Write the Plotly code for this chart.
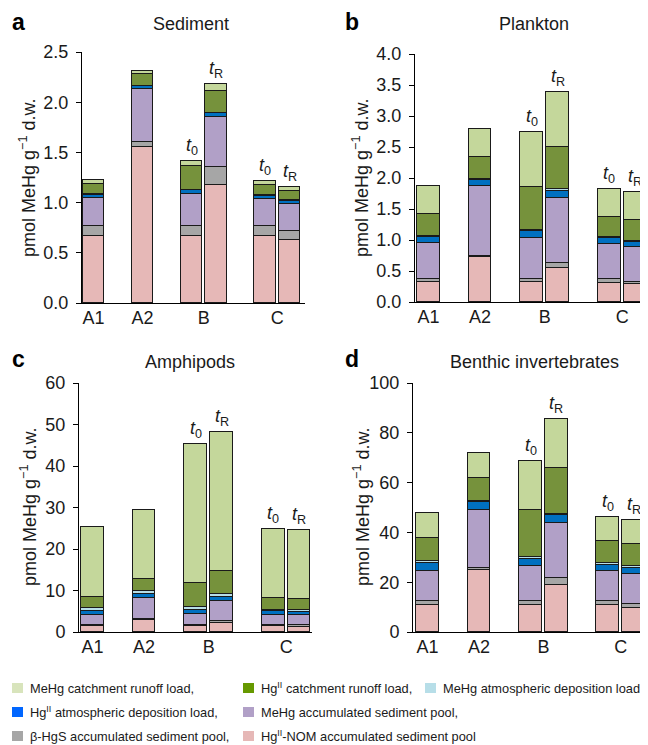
import plotly.graph_objects as go

W, H = 648, 745
PAGE_OFFSET = 8  # the page body places the figure 8 px from the window's top-left corner

# ---------------- data ----------------
bar_groups = ["A1", "A2", "B", "B", "C", "C"]
bar_times = ["", "", "t0", "tR", "t0", "tR"]

component_names = [
    "Hg<sup>II</sup>-NOM accumulated sediment pool",
    "β-HgS accumulated sediment pool,",
    "MeHg accumulated sediment pool,",
    "Hg<sup>II</sup> atmospheric deposition load,",
    "MeHg atmospheric deposition load,",
    "Hg<sup>II</sup> catchment runoff load,",
    "MeHg catchment runoff load,",
]
bar_colors = ["#e6b8b7", "#a6a6a6", "#b1a0c7", "#0070c0", "#b7dee8", "#76923c", "#c4d79b"]
legend_colors = ["#e6b8b7", "#a6a6a6", "#b1a0c7", "#0066ff", "#b7dee8", "#669900", "#d8e4bc"]

# Sediment (pmol MeHg g-1 d.w.)
sed_nom = [0.667, 1.550, 0.667, 1.180, 0.665, 0.624]
sed_hgs = [0.097, 0.050, 0.097, 0.175, 0.100, 0.093]
sed_mehg_sed = [0.282, 0.528, 0.326, 0.500, 0.272, 0.266]
sed_hg_atm = [0.032, 0.032, 0.032, 0.033, 0.030, 0.032]
sed_mehg_atm = [0.008, 0.006, 0.008, 0.008, 0.006, 0.006]
sed_hg_run = [0.104, 0.112, 0.230, 0.216, 0.106, 0.098]
sed_mehg_run = [0.038, 0.033, 0.057, 0.066, 0.036, 0.033]

# Plankton
pla_nom = [0.315, 0.730, 0.315, 0.550, 0.310, 0.290]
pla_hgs = [0.050, 0.015, 0.050, 0.080, 0.055, 0.040]
pla_mehg_sed = [0.590, 1.120, 0.665, 1.050, 0.570, 0.555]
pla_hg_atm = [0.090, 0.100, 0.110, 0.115, 0.090, 0.080]
pla_mehg_atm = [0.015, 0.020, 0.020, 0.020, 0.020, 0.020]
pla_hg_run = [0.360, 0.350, 0.690, 0.690, 0.330, 0.340]
pla_mehg_run = [0.450, 0.450, 0.890, 0.890, 0.455, 0.450]

# Amphipods
amp_nom = [1.5, 3.0, 1.5, 2.2, 1.45, 1.2]
amp_hgs = [0.2, 0.2, 0.2, 0.5, 0.2, 0.4]
amp_mehg_sed = [2.5, 5.0, 2.7, 4.8, 2.5, 2.4]
amp_hg_atm = [0.9, 1.0, 1.0, 1.0, 0.85, 0.8]
amp_mehg_atm = [0.8, 0.6, 0.7, 0.6, 0.4, 0.4]
amp_hg_run = [2.6, 3.0, 5.7, 5.6, 2.8, 2.85]
amp_mehg_run = [16.9, 16.7, 33.6, 33.6, 16.7, 16.65]

# Benthic invertebrates
ben_nom = [10.7, 24.8, 10.7, 18.8, 10.7, 9.8]
ben_hgs = [1.6, 0.8, 1.8, 2.8, 1.8, 1.6]
ben_mehg_sed = [12.2, 23.4, 13.9, 22.3, 11.9, 11.8]
ben_hg_atm = [3.2, 3.1, 3.1, 2.9, 2.7, 2.6]
ben_mehg_atm = [0.7, 0.7, 0.7, 0.7, 0.6, 0.6]
ben_hg_run = [9.2, 9.2, 18.8, 18.5, 8.8, 8.8]
ben_mehg_run = [10.1, 9.7, 19.5, 19.6, 9.8, 9.8]

panel_titles = ["Sediment", "Plankton", "Amphipods", "Benthic invertebrates"]
panel_letters = ["a", "b", "c", "d"]
y_ticks = [[0.0, 0.5, 1.0, 1.5, 2.0, 2.5],
           [0.0, 0.5, 1.0, 1.5, 2.0, 2.5, 3.0, 3.5, 4.0],
           [0, 10, 20, 30, 40, 50, 60],
           [0, 20, 40, 60, 80, 100]]
panel_data = [
    [sed_nom, sed_hgs, sed_mehg_sed, sed_hg_atm, sed_mehg_atm, sed_hg_run, sed_mehg_run],
    [pla_nom, pla_hgs, pla_mehg_sed, pla_hg_atm, pla_mehg_atm, pla_hg_run, pla_mehg_run],
    [amp_nom, amp_hgs, amp_mehg_sed, amp_hg_atm, amp_mehg_atm, amp_hg_run, amp_mehg_run],
    [ben_nom, ben_hgs, ben_mehg_sed, ben_hg_atm, ben_mehg_atm, ben_hg_run, ben_mehg_run],
]

# ---------------- layout helpers ----------------
def fx(px):
    return (px - PAGE_OFFSET) / W

def fy(py):
    return 1 - (py - PAGE_OFFSET) / H

# bar slot positions: one empty slot between groups
positions = []
p = 0
for i, g in enumerate(bar_groups):
    if i > 0:
        p += 2 if g != bar_groups[i - 1] else 1
    positions.append(p)
group_names = []
group_centers = []
for g in bar_groups:
    if g not in group_names:
        group_names.append(g)
for g in group_names:
    ps = [positions[i] for i in range(len(bar_groups)) if bar_groups[i] == g]
    group_centers.append(sum(ps) / len(ps))

# pixel geometry of each panel in the window: (x0, x1, y0, y1, xrange)
panels_px = [
    (82, 305, 52, 303, [-0.47, 8.63]),
    (415, 648, 54, 302, [-0.52, 8.5]),
    (79, 312, 383, 632, [-0.52, 8.5]),
    (413, 648, 383, 632, [-0.56, 8.56]),
]
title_px = [(191, 24), (534, 24), (190, 362), (534, 362)]
letter_px = [(18, 22), (352, 22), (18, 359), (352, 359)]
ytitle_px = [(27, 178), (360, 178), (28, 507), (361, 507)]

FONT = "Liberation Sans, Arial, sans-serif"
TXT = "#1a1a1a"

fig = go.Figure()
annotations = []

for k in range(4):
    xa = "x" if k == 0 else f"x{k+1}"
    ya = "y" if k == 0 else f"y{k+1}"
    comps = panel_data[k]
    for c in range(7):
        fig.add_trace(go.Bar(
            x=positions, y=comps[c], xaxis=xa, yaxis=ya,
            width=0.88,
            marker=dict(color=bar_colors[c], line=dict(color="#1a1a1a", width=1)),
            name=component_names[c], showlegend=False,
        ))
    totals = [sum(comps[c][i] for c in range(7)) for i in range(len(positions))]
    for i, t in enumerate(bar_times):
        if t:
            sub = t[1:]
            annotations.append(dict(
                x=positions[i], y=totals[i], xref=xa, yref=ya,
                text=f"<i>t</i><sub>{sub}</sub>", showarrow=False,
                xanchor="center", yanchor="bottom", yshift=1,
                font=dict(family=FONT, size=18, color=TXT),
            ))
    x0, x1, y0, y1, xr = panels_px[k]
    axis_suffix = "" if k == 0 else str(k + 1)
    fig.layout["xaxis" + axis_suffix] = dict(
        domain=[fx(x0), min(1.0, fx(x1))], range=xr, anchor=ya,
        tickvals=group_centers, ticktext=group_names, ticks="",
        showline=True, linecolor="black", linewidth=1,
        showgrid=False, zeroline=False, fixedrange=True, automargin=False,
        ticklabelstandoff=-2,
        tickfont=dict(family=FONT, size=18, color=TXT),
    )
    yt = y_ticks[k]
    fig.layout["yaxis" + axis_suffix] = dict(
        domain=[fy(y1), fy(y0)], range=[0, yt[-1]], anchor=xa,
        tickvals=yt, tickformat=".1f" if k < 2 else "d",
        ticks="outside", ticklen=5, tickcolor="black", tickwidth=1,
        showline=True, linecolor="black", linewidth=1,
        showgrid=False, zeroline=False, fixedrange=True, automargin=False,
        ticklabelstandoff=4,
        tickfont=dict(family=FONT, size=18, color=TXT),
    )
    tx, ty = title_px[k]
    annotations.append(dict(x=fx(tx), y=fy(ty), xref="paper", yref="paper",
                            text=panel_titles[k], showarrow=False,
                            xanchor="center", yanchor="middle",
                            font=dict(family=FONT, size=18, color=TXT)))
    lx, ly = letter_px[k]
    annotations.append(dict(x=fx(lx), y=fy(ly), xref="paper", yref="paper",
                            text=f"<b>{panel_letters[k]}</b>", showarrow=False,
                            xanchor="center", yanchor="middle",
                            font=dict(family=FONT, size=23, color="black")))
    ax_, ay_ = ytitle_px[k]
    annotations.append(dict(x=fx(ax_), y=fy(ay_), xref="paper", yref="paper",
                            text="pmol MeHg g<sup>−1</sup> d.w.", showarrow=False,
                            textangle=-90, xanchor="center", yanchor="middle",
                            font=dict(family=FONT, size=18, color=TXT)))

# ---------------- manual legend ----------------
legend_order = [6, 5, 4, 3, 2, 1, 0]
legend_slots = [(12, 688), (243, 688), (425, 688),
                (12, 712), (243, 712),
                (12, 736), (243, 736)]
shapes = []
for idx, (sx, sy) in zip(legend_order, legend_slots):
    shapes.append(dict(type="rect", xref="paper", yref="paper",
                       x0=fx(sx), x1=fx(sx + 11), y0=fy(sy + 5), y1=fy(sy - 5),
                       fillcolor=legend_colors[idx], line=dict(width=0)))
    annotations.append(dict(x=fx(sx + 16), y=fy(sy), xref="paper", yref="paper",
                            text=component_names[idx], showarrow=False,
                            xanchor="left", yanchor="middle",
                            font=dict(family=FONT, size=12.8, color=TXT)))

fig.update_layout(
    width=W, height=H,
    margin=dict(l=0, r=0, t=0, b=0, pad=0, autoexpand=False),
    paper_bgcolor="white", plot_bgcolor="white",
    barmode="stack", bargap=0,
    showlegend=False,
    annotations=annotations, shapes=shapes,
    font=dict(family=FONT, color=TXT),
)

fig.write_html("out.html")
